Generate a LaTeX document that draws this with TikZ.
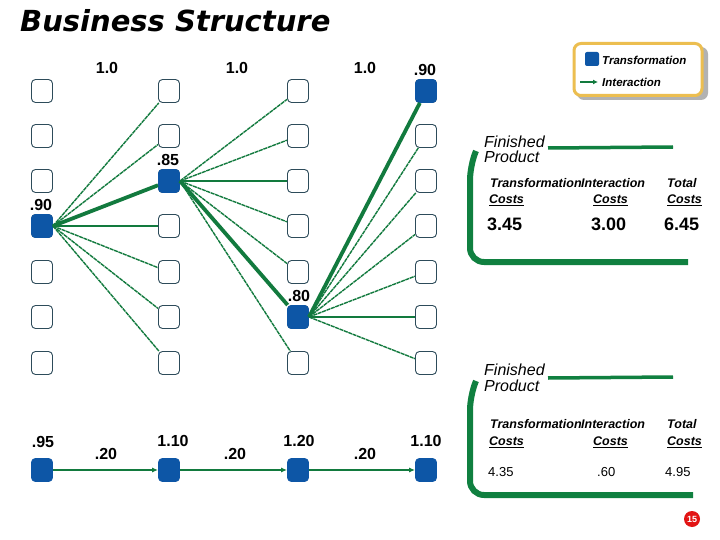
\documentclass[tikz,border=0pt]{standalone}
\usepackage{fontspec}
\setmainfont{Liberation Sans}
\newfontfamily\titlefont{DejaVu Sans}
\usetikzlibrary{arrows.meta}
\definecolor{lgreen}{RGB}{18,122,62}
\definecolor{pgreen}{RGB}{16,128,64}
\definecolor{bblue}{RGB}{13,86,166}
\definecolor{boxline}{RGB}{45,75,90}
\definecolor{gold}{RGB}{236,190,80}
\definecolor{pgred}{RGB}{226,20,20}
\begin{document}
\begin{tikzpicture}[x=1pt,y=-1pt,
  cell/.style={draw=boxline,line width=0.9pt,rounded corners=4pt,minimum width=21pt,minimum height=23pt,inner sep=0pt,fill=white},
  tcell/.style={cell,fill=bblue,draw=bblue},
  lab/.style={font=\fontsize{16}{16}\selectfont\bfseries,inner sep=0pt},
  thinlink/.style={draw=lgreen,line width=1.4pt,dash pattern=on 4pt off 0.7pt},
  hlink/.style={draw=lgreen,line width=2.4pt},
  thicklink/.style={draw=lgreen,line width=3.8pt},
  flow/.style={draw=lgreen,line width=1.8pt,-{Latex[length=6pt,width=5pt]}},
  ptxt/.style={anchor=west,inner sep=0pt,font=\fontsize{16}{16}\selectfont\itshape},
  phead/.style={anchor=west,inner sep=0pt,font=\fontsize{12.5}{12.5}\selectfont\bfseries\itshape},
  pbig/.style={anchor=west,inner sep=0pt,font=\fontsize{18}{18}\selectfont\bfseries},
  psmall/.style={anchor=west,inner sep=0pt,font=\fontsize{13}{13}\selectfont},
  legtxt/.style={anchor=west,inner sep=0pt,font=\fontsize{11.5}{11.5}\selectfont\bfseries\itshape},
  bracket/.style={draw=pgreen,line width=6pt,rounded corners=14pt},
  topbar/.style={draw=pgreen,line width=3.5pt}
]
\useasboundingbox (0,0) rectangle (720,540);
\fill[white] (0,0) rectangle (720,540);

% title
\node[anchor=west,inner sep=0pt,font=\titlefont\fontsize{29}{29}\selectfont\bfseries\itshape] (title) at (20,21) {Business Structure};

% grid of boxes
\foreach \c/\x in {1/42,2/169,3/298,4/426}
  \foreach \r/\y in {1/91,2/136,3/181,4/226,5/272,6/317,7/363}
    \node[cell] (c\c r\r) at (\x,\y) {};
\node[tcell] (c1r4) at (42,226) {};
\node[tcell] (c2r3) at (169,181) {};
\node[tcell] (c3r6) at (298,317) {};
\node[tcell] (c4r1) at (426,91) {};

% links column 1 -> 2
\foreach \r in {1,2,5,6,7} \draw[thinlink] (c1r4.east) -- (c2r\r);
\draw[hlink] (c1r4.east) -- (c2r4.west);
\draw[thicklink] (c1r4.east) -- (c2r3);
% links column 2 -> 3
\foreach \r in {1,2,4,5,7} \draw[thinlink] (c2r3.east) -- (c3r\r);
\draw[hlink] (c2r3.east) -- (c3r3.west);
\draw[thicklink] (c2r3.east) -- (c3r6);
% links column 3 -> 4
\foreach \r in {2,3,4,5,7} \draw[thinlink] (c3r6.east) -- (c4r\r);
\draw[hlink] (c3r6.east) -- (c4r6.west);
\draw[thicklink] (c3r6.east) -- (c4r1);

% labels
\node[lab] (l1) at (107,68) {1.0};
\node[lab] (l2) at (237,68) {1.0};
\node[lab] (l3) at (365,68) {1.0};
\node[lab] (l4) at (425,70) {.90};
\node[lab] (l5) at (168,160) {.85};
\node[lab] (l6) at (41,205) {.90};
\node[lab] (l7) at (299,296) {.80};

% bottom chain
\node[tcell] (b1) at (42,470) {};
\node[tcell] (b2) at (169,470) {};
\node[tcell] (b3) at (298,470) {};
\node[tcell] (b4) at (426,470) {};
\draw[flow] (b1.east) -- (b2.west);
\draw[flow] (b2.east) -- (b3.west);
\draw[flow] (b3.east) -- (b4.west);
\node[lab] (bl1) at (43,442) {.95};
\node[lab] (bl2) at (106,454) {.20};
\node[lab] (bl3) at (173,441) {1.10};
\node[lab] (bl4) at (235,454) {.20};
\node[lab] (bl5) at (299,441) {1.20};
\node[lab] (bl6) at (365,454) {.20};
\node[lab] (bl7) at (426,441) {1.10};

% legend
\fill[black!30,rounded corners=7pt] (577,47) rectangle (708,100);
\node[draw=gold,line width=3pt,rounded corners=7pt,fill=white,minimum width=128pt,minimum height=52pt,inner sep=0pt] (legend) at (638,69.5) {};
\node[fill=bblue,rounded corners=2pt,minimum size=14pt,inner sep=0pt] (legsq) at (592,59) {};
\node[legtxt] (legt1) at (602,60) {Transformation};
\coordinate (la1) at (580,82);
\coordinate (la2) at (598,82);
\draw[draw=lgreen,line width=2pt,-{Latex[length=5pt,width=5pt]}] (la1) -- (la2);
\node[legtxt] (legt2) at (602,82) {Interaction};

% panel 1
\draw[bracket] (476,151) -- (470,166) -- (470,262) -- (688,262);
\draw[topbar] (548,148) -- (673,147);
\node[ptxt] (p1a) at (484,142) {Finished};
\node[ptxt] (p1b) at (484,157) {Product};
\node[phead] (p1h1) at (490,183) {Transformation};
\node[phead] (p1h2) at (581,183) {Interaction};
\node[phead] (p1h3) at (667,183) {Total};
\node[phead] (p1c1) at (489,200) {\underline{Costs}};
\node[phead] (p1c2) at (593,200) {\underline{Costs}};
\node[phead] (p1c3) at (667,200) {\underline{Costs}};
\node[pbig] (p1n1) at (487,224) {3.45};
\node[pbig] (p1n2) at (591,224) {3.00};
\node[pbig] (p1n3) at (664,224) {6.45};

% panel 2
\draw[bracket] (476,381) -- (470,396) -- (470,495) -- (693,495);
\draw[topbar] (548,378) -- (673,377);
\node[ptxt] (p2a) at (484,370) {Finished};
\node[ptxt] (p2b) at (484,386) {Product};
\node[phead] (p2h1) at (490,424) {Transformation};
\node[phead] (p2h2) at (581,424) {Interaction};
\node[phead] (p2h3) at (667,424) {Total};
\node[phead] (p2c1) at (489,442) {\underline{Costs}};
\node[phead] (p2c2) at (593,442) {\underline{Costs}};
\node[phead] (p2c3) at (667,442) {\underline{Costs}};
\node[psmall] (p2n1) at (488,472) {4.35};
\node[psmall] (p2n2) at (597,472) {.60};
\node[psmall] (p2n3) at (665,472) {4.95};

% page number
\node[circle,fill=pgred,text=white,minimum size=16pt,inner sep=0pt,font=\fontsize{9}{9}\selectfont\bfseries] (pg) at (692,519) {15};
\end{tikzpicture}
\end{document}
